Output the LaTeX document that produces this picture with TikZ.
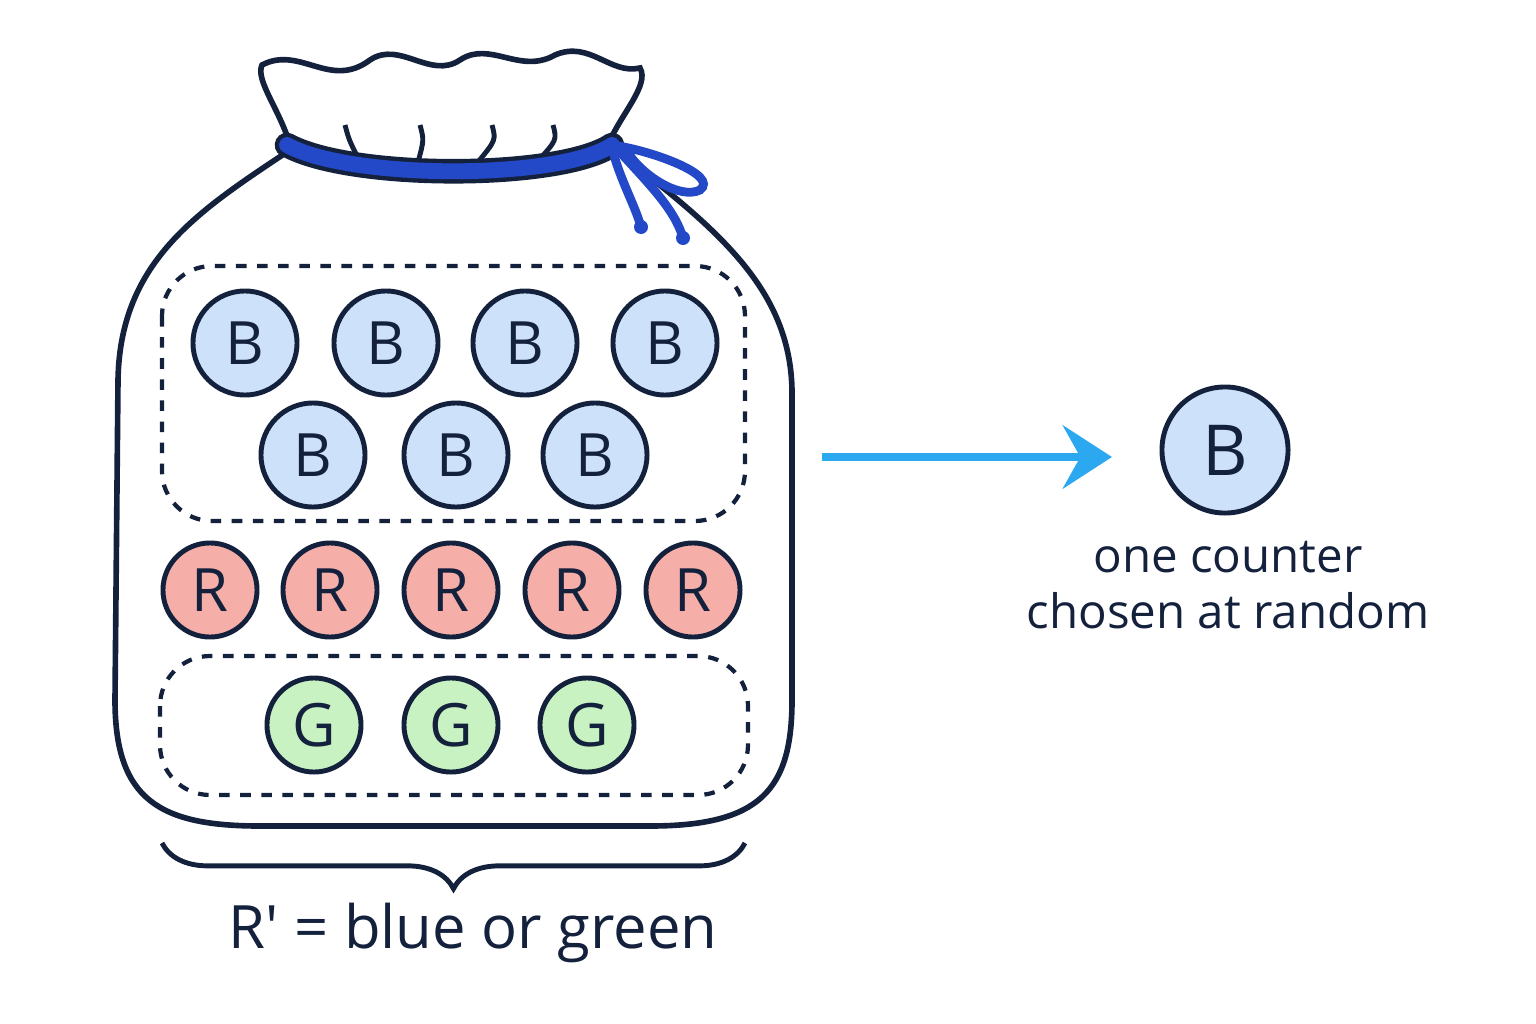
\documentclass[tikz,border=0pt]{standalone}
\usepackage{fontspec}
\setmainfont{Open Sans}
\usetikzlibrary{arrows.meta,decorations.pathreplacing}
\definecolor{ink}{HTML}{14213D}
\definecolor{bfill}{HTML}{CDE2FA}
\definecolor{rfill}{HTML}{F6AEA8}
\definecolor{gfill}{HTML}{C8F2C2}
\definecolor{tie}{HTML}{2449C8}
\definecolor{arr}{HTML}{2CA8F0}
\begin{document}
\begin{tikzpicture}[x=0.01cm,y=-0.01cm,
  counter/.style={circle, draw=ink, line width=1.4pt, text=ink, font=\fontsize{17}{20}\selectfont, inner sep=0pt},
  blue counter/.style={counter, fill=bfill, minimum size=1.04cm},
  red counter/.style={counter, fill=rfill, minimum size=0.94cm},
  green counter/.style={counter, fill=gfill, minimum size=0.94cm},
  group/.style={draw=ink, dashed, line width=1.2pt, rounded corners=0.5cm}]
  \useasboundingbox (0,0) rectangle (1536,1024);

  % Bag
  \draw[ink, line width=1.6pt, fill=white] (290,150) .. controls (200,210) and (120,260) .. (118,380)
    -- (115,700) .. controls (115,800) and (160,826) .. (260,826) -- (650,826)
    .. controls (760,826) and (792,790) .. (792,700) -- (792,390)
    .. controls (790,290) and (720,230) .. (612,148);
  \draw[ink, line width=1.6pt, fill=white] (290,145) .. controls (280,110) and (255,80) .. (262,65)
    .. controls (300,45) and (330,90) .. (370,60) .. controls (400,40) and (430,80) .. (460,60)
    .. controls (490,40) and (520,75) .. (555,55) .. controls (590,40) and (610,75) .. (640,68)
    .. controls (650,85) and (620,115) .. (608,145);
  \foreach \a/\b in {345/360,420/418,492/478,553/537}
    \draw[ink, line width=1.4pt] (\a,125) .. controls (\a+4,140) .. (\b,162);
  % Tie
  \draw[ink, line width=7pt, line cap=round] (287,145) .. controls (350,180) and (560,180) .. (612,145);
  \draw[tie, line width=4.5pt, line cap=round] (287,145) .. controls (350,180) and (560,180) .. (612,145);
  \draw[tie, line width=2.5pt] (612,145) .. controls (650,150) and (720,175) .. (700,190)
    .. controls (680,200) and (640,175) .. (625,148);
  \draw[tie, line width=2.5pt] (612,148) .. controls (620,180) and (635,205) .. (641,227);
  \draw[tie, line width=2.5pt] (618,150) .. controls (650,185) and (675,210) .. (683,238);
  \fill[tie] (641,227) circle (7); \fill[tie] (683,238) circle (7);

  % Groups
  \draw[group] (162,266) rectangle (745,521);
  \draw[group] (160,656) rectangle (748,795);

  % Counters
  \foreach \x [count=\i] in {245,386,525,665}
    \node[blue counter] (b\i) at (\x,343) {B};
  \foreach \x [count=\i from 5] in {313,456,595}
    \node[blue counter] (b\i) at (\x,455) {B};
  \foreach \x [count=\i] in {210,330,451,572,693}
    \node[red counter] (r\i) at (\x,590) {R};
  \foreach \x [count=\i] in {314,451,587}
    \node[green counter] (g\i) at (\x,725) {G};

  % Chosen counter
  \coordinate (start) at (822,457);
  \node[blue counter, minimum size=1.26cm, font=\fontsize{20}{24}\selectfont] (pick) at (1225,450) {B};
  \draw[arr, line width=2.5pt, -{Stealth[length=14pt, width=18pt, inset=5pt]}] (start) -- (1112,457);
  \node[text=ink, align=center, font=\fontsize{13.5}{16}\selectfont] (caption) at (1228,585)
    {one counter\\chosen at random};

  % Brace
  \draw[ink, line width=1.4pt, decorate, decoration={brace, mirror, amplitude=13pt}] (162,843) -- (745,843);
  \node[text=ink, font=\fontsize{17}{22}\selectfont] (rdash) at (473,933) {R′ = blue or green};
\end{tikzpicture}
\end{document}
